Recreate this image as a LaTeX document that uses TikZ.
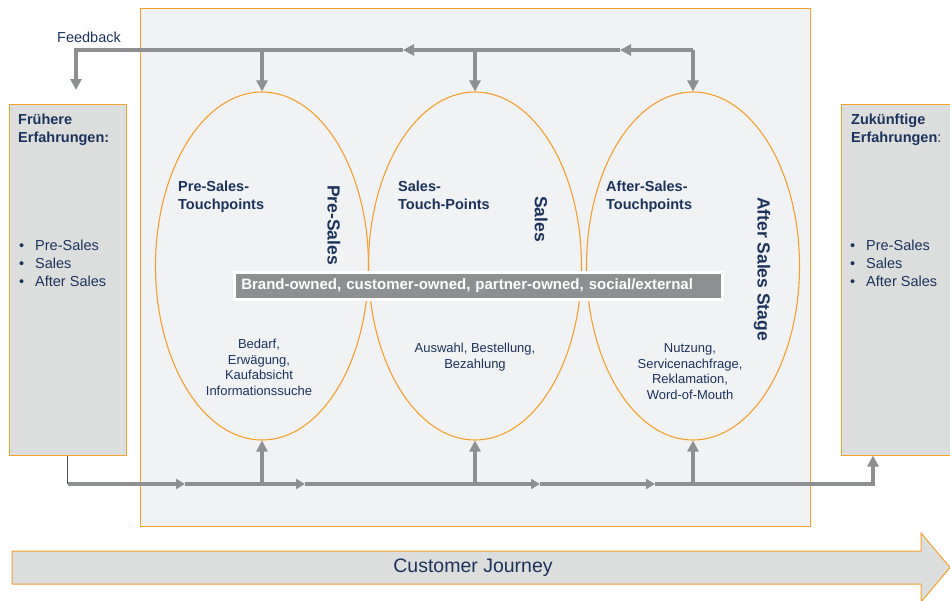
\documentclass[tikz,border=0pt]{standalone}
\usepackage{fontspec}
\setmainfont{Liberation Sans}
\usetikzlibrary{arrows.meta,shapes.geometric}
\definecolor{cjorange}{RGB}{245,160,45}
\definecolor{cjnavy}{RGB}{27,51,92}
\definecolor{cjbox}{RGB}{220,221,221}
\definecolor{cjpanel}{RGB}{241,242,244}
\definecolor{cjline}{RGB}{142,143,145}

\tikzset{
  stage/.style={ellipse,draw=cjorange,line width=1.1pt,minimum width=213pt,minimum height=348pt,inner sep=0pt},
  sidebox/.style={draw=cjorange,fill=cjbox,line width=1pt,minimum height=351pt,inner sep=0pt},
  bus/.style={draw=cjline,line width=3.5pt},
  busend/.style={-{Triangle[length=11pt,width=11pt]}},
  busmid/.style={-{Triangle[length=9pt,width=10pt]}},
  heading/.style={inner sep=0pt,anchor=base west,align=left,text=cjnavy,font=\fontsize{14.5}{18}\selectfont\bfseries},
  listing/.style={inner sep=0pt,anchor=base west,align=left,text=cjnavy,font=\fontsize{14.5}{18}\selectfont},
  phase/.style={inner sep=0pt,rotate=-90,text=cjnavy,font=\fontsize{17.5}{20}\selectfont\bfseries},
  detail/.style={inner sep=0pt,anchor=base,align=center,text=cjnavy,font=\fontsize{13}{15.5}\selectfont}
}
\newcommand{\bul}[1]{\makebox[16pt][l]{\textbullet}#1}

\begin{document}
\begin{tikzpicture}[x=1pt,y=-1pt]
    \useasboundingbox (0,0) rectangle (950,600);

    % middle panel and the side boxes
    \node[draw=cjorange,fill=cjpanel,line width=1pt,minimum width=670pt,minimum height=518pt,inner sep=0pt] (panel) at (475,267) {};
    \node[sidebox,minimum width=117pt] (past) at (67.5,279.5) {};
    \node[sidebox,minimum width=119pt] (future) at (900.5,279.5) {};

    % multi-line texts sit on the baseline of their last line
    \node[heading] (pasttitle) at (18,142) {Frühere\\Erfahrungen:};
    \node[listing] (pastlist) at (19,286) {\bul{Pre-Sales}\\\bul{Sales}\\\bul{After Sales}};
    \node[heading] (futuretitle) at (851,142) {Zukünftige\\Erfahrungen\textmd{:}};
    \node[listing] (futurelist) at (850,286) {\bul{Pre-Sales}\\\bul{Sales}\\\bul{After Sales}};

    % the three stages
    \node[stage] (pre) at (262,266) {};
    \node[stage] (sales) at (475,266) {};
    \node[stage] (after) at (693,266) {};

    \node[heading] (pretitle) at (178,209) {Pre-Sales-\\Touchpoints};
    \node[heading] (salestitle) at (398,209) {Sales-\\Touch-Points};
    \node[heading] (aftertitle) at (606,209) {After-Sales-\\Touchpoints};

    \node[phase] (prephase) at (334,225) {Pre-Sales};
    \node[phase] (salesphase) at (541,219) {Sales};
    \node[phase] (afterphase) at (762,269) {After Sales Stage};

    \node[detail] (predetail) at (259,395) {Bedarf,\\Erwägung,\\Kaufabsicht\\Informationssuche};
    \node[detail] (salesdetail) at (475,368) {Auswahl, Bestellung,\\Bezahlung};
    \node[detail] (afterdetail) at (690,399) {Nutzung,\\Servicenachfrage,\\Reklamation,\\Word-of-Mouth};

    \node[anchor=west,fill=cjline,draw=white,line width=2.5pt,minimum width=488pt,minimum height=27pt,
          text width=474pt,inner xsep=7pt,align=left,text=white,font=\fontsize{15}{17}\selectfont\bfseries]
          (channels) at (233,286) {Brand-owned, customer-owned, partner-owned, social/external};

    % feedback line on top
    \node[inner sep=0pt,anchor=base west,text=cjnavy,font=\fontsize{14.5}{18}\selectfont] (feedback) at (57,42) {Feedback};
    \coordinate (t0) at (76,50);
    \coordinate (t1) at (403,50);
    \coordinate (t2) at (620,50);
    \coordinate (t3) at (693,50);
    \coordinate (fb) at (76,90);
    \draw[bus,busend] (t3) -- (after.north);
    \draw[bus,busend] (t3) -- (t2);
    \draw[bus,busend] (t2) -- (t1);
    \draw[bus,busend,line join=miter] (t1) -- (t0) -- (fb);
    \draw[bus,busend] (sales.north |- t1) -- (sales.north);
    \draw[bus,busend] (pre.north |- t1) -- (pre.north);

    % journey line at the bottom
    \coordinate (b0) at (67.5,484);
    \coordinate (b1) at (185,484);
    \coordinate (b2) at (305,484);
    \coordinate (b3) at (540,484);
    \coordinate (b4) at (655,484);
    \coordinate (b5) at (873,484);
    \draw[black!70,line width=0.6pt] (past.south) -- (b0);
    \draw[bus,busmid] (b0) -- (b1);
    \draw[bus,busmid] (b1) -- (b2);
    \draw[bus,busmid] (b2) -- (b3);
    \draw[bus,busmid] (b3) -- (b4);
    \draw[bus,busend,line join=miter] (b4) -- (b5) -- (b5 |- future.south);
    \draw[bus,busend] (pre.south |- b0) -- (pre.south);
    \draw[bus,busend] (sales.south |- b0) -- (sales.south);
    \draw[bus,busend] (after.south |- b0) -- (after.south);

    % customer journey arrow
    \draw[draw=cjorange,fill=cjbox,line width=1pt] (12,551) -- (921,551) -- (921,533) -- (950,567.5) -- (921,602) -- (921,584) -- (12,584) -- cycle;
    \node[text=cjnavy,font=\fontsize{19.5}{22}\selectfont] (journey) at (473,567.5) {Customer Journey};
\end{tikzpicture}
\end{document}
